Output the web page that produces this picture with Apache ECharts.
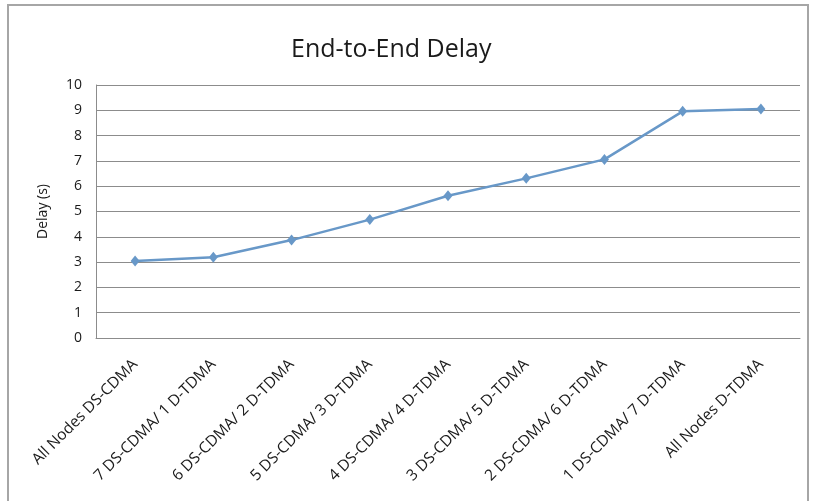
<!DOCTYPE html>
<html>
<head>
<meta charset="utf-8">
<script src="https://cdn.jsdelivr.net/npm/echarts@6/dist/echarts.min.js"></script>
<style>
	html, body { margin: 0; padding: 0; background: #fff; }
	#chartCont { width: 813px; height: 501px; }
</style>
</head>
<body>
<div id="chartCont"></div>
<script>
var categories = [
	'All Nodes DS-CDMA',
	'7 DS-CDMA/ 1 D-TDMA',
	'6 DS-CDMA/ 2 D-TDMA',
	'5 DS-CDMA/ 3 D-TDMA',
	'4 DS-CDMA/ 4 D-TDMA',
	'3 DS-CDMA/ 5 D-TDMA',
	'2 DS-CDMA/ 6 D-TDMA',
	'1 DS-CDMA/ 7 D-TDMA',
	'All Nodes D-TDMA'
];
var delayValues = [3.04, 3.19, 3.87, 4.68, 5.62, 6.31, 7.06, 8.96, 9.05];

(function(){
	var font = '"Open Sans", "Liberation Sans", sans-serif';
	var option = {
		animation: false,
		backgroundColor: '#fff',
		textStyle: { fontFamily: font },
		graphic: [{
			type: 'rect',
			shape: { x: 8, y: 5, width: 800, height: 520 },
			style: { fill: 'none', stroke: '#a6a6a6', lineWidth: 2 },
			silent: true
		}],
		title: {
			text: 'End-to-End Delay',
			left: 286,
			top: 32,
			textStyle: { fontFamily: font, fontSize: 25, fontWeight: 'normal', color: '#1a1a1a' }
		},
		grid: { left: 96, right: 13, top: 85, bottom: 163, containLabel: false },
		xAxis: {
			type: 'category',
			data: categories,
			boundaryGap: true,
			axisLine: { lineStyle: { color: '#8c8c8c', width: 1 } },
			axisTick: { show: false },
			axisLabel: { rotate: 45, fontSize: 15.5, color: '#1a1a1a', margin: 24, interval: 0 }
		},
		yAxis: {
			type: 'value',
			min: 0,
			max: 10,
			interval: 1,
			name: 'Delay (s)',
			nameLocation: 'middle',
			nameGap: 46,
			nameTextStyle: { fontSize: 14, color: '#1a1a1a' },
			axisLine: { show: true, lineStyle: { color: '#8c8c8c', width: 1 } },
			axisTick: { show: false },
			axisLabel: { fontSize: 14, color: '#1a1a1a', margin: 14 },
			splitLine: { lineStyle: { color: '#8c8c8c', width: 1 } }
		},
		series: [{
			name: 'Delay',
			type: 'line',
			data: delayValues,
			symbol: 'diamond',
			symbolSize: [9, 11],
			lineStyle: { color: '#6898c8', width: 2.5 },
			itemStyle: { color: '#6898c8' }
		}]
	};
	var chart = echarts.init(document.getElementById('chartCont'));
	chart.setOption(option);
})();
</script>
</body>
</html>
